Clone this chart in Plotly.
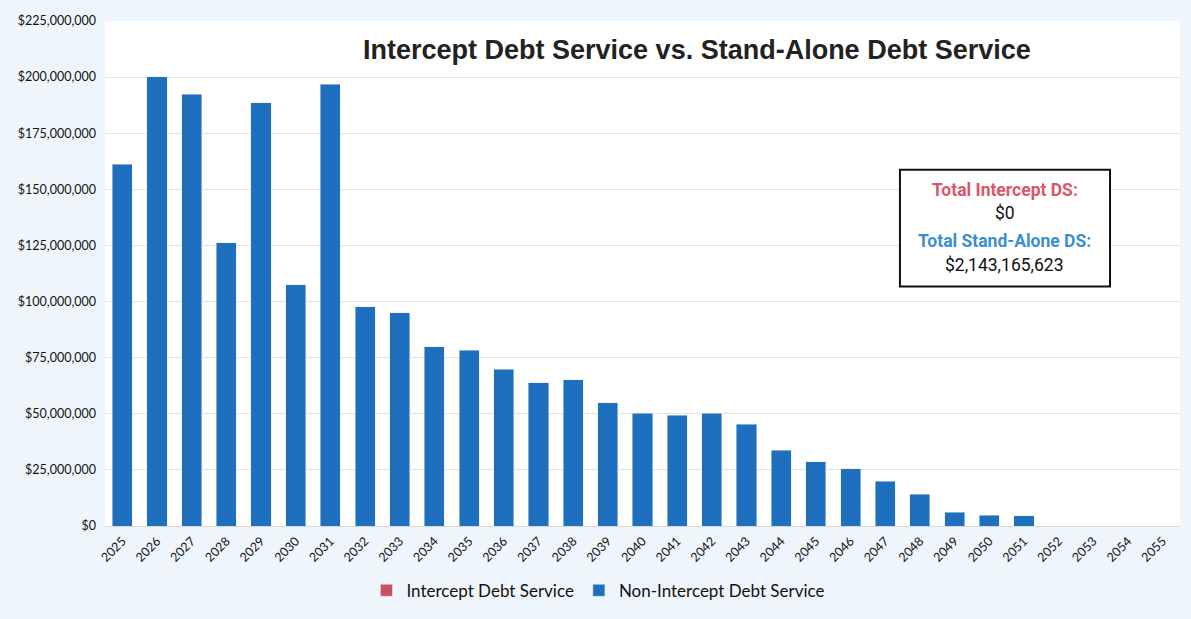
import plotly.graph_objects as go

years = [str(y) for y in range(2025, 2056)]
intercept_ds = [0] * 31
non_intercept_ds = [
    161.2e6, 200.1e6, 192.4e6, 126.1e6, 188.6e6, 107.4e6, 196.8e6, 97.6e6,
    95.1e6, 79.9e6, 78.2e6, 69.8e6, 63.9e6, 65.2e6, 55.0e6, 50.2e6,
    49.3e6, 50.2e6, 45.3e6, 33.8e6, 28.6e6, 25.6e6, 19.9e6, 14.2e6,
    6.1e6, 4.9e6, 4.6e6, 0, 0, 0, 0,
]
y_ticks = [i * 25_000_000 for i in range(10)]
y_tick_text = [f"${v:,}" for v in y_ticks]
title_text = "Intercept Debt Service vs. Stand-Alone Debt Service"
box_lines = [
    ("Total Intercept DS:", "#d9566b", True),
    ("$0", "#111111", False),
    ("Total Stand-Alone DS:", "#3a8fd0", True),
    ("$2,143,165,623", "#111111", False),
]

fig = go.Figure()
fig.add_trace(go.Bar(x=years, y=intercept_ds, name="Intercept Debt Service",
                     marker_color="#c9505f"))
fig.add_trace(go.Bar(x=years, y=non_intercept_ds, name="Non-Intercept Debt Service",
                     marker_color="#1f6fbf"))

fig.update_layout(
    barmode="stack",
    bargap=0.42,
    width=1191, height=619,
    margin=dict(l=105, r=11, t=21, b=92),
    paper_bgcolor="#eef6fb",
    plot_bgcolor="white",
    font=dict(family="Lato, Open Sans, sans-serif", color="#111"),
    showlegend=True,
    legend=dict(orientation="h", x=0.459, xanchor="center", y=-0.126, yanchor="middle",
                font=dict(size=17, color="#111"), bgcolor="rgba(0,0,0,0)",
                itemwidth=30, traceorder="normal"),
    xaxis=dict(tickangle=-45, tickfont=dict(size=12.5, color="#111"),
               showgrid=False, showline=True, linecolor="#d8d8d8", ticks="",
               ticklabelstandoff=2),
    yaxis=dict(range=[0, 225_000_000], tickvals=y_ticks, ticktext=y_tick_text,
               tickfont=dict(size=12.5, color="#111"), ticklabelstandoff=8,
               showgrid=True, gridcolor="#e3e3e3", zeroline=False, ticks=""),
)

fig.add_annotation(text=f"<b>{title_text}</b>", xref="paper", yref="paper",
                   x=0.551, y=0.943, xanchor="center", yanchor="middle", showarrow=False,
                   font=dict(family="Liberation Sans, Arial, sans-serif", size=27, color="#222"))

# annotation box
fig.add_shape(type="rect", xref="paper", yref="paper",
              x0=0.7395, x1=0.9349, y0=0.4743, y1=0.7055,
              line=dict(color="#111", width=2), fillcolor="white", layer="above")
line_ys = [0.666, 0.619, 0.565, 0.516]
for (txt, col, bold), yy in zip(box_lines, line_ys):
    fig.add_annotation(text=f"<b>{txt}</b>" if bold else txt, xref="paper", yref="paper",
                       x=0.837, y=yy, xanchor="center", yanchor="middle", showarrow=False,
                       font=dict(family="Roboto, sans-serif", size=17.5, color=col))

fig.write_html("out.html", config={"displayModeBar": False},
               post_script="document.body.style.margin='0';")
